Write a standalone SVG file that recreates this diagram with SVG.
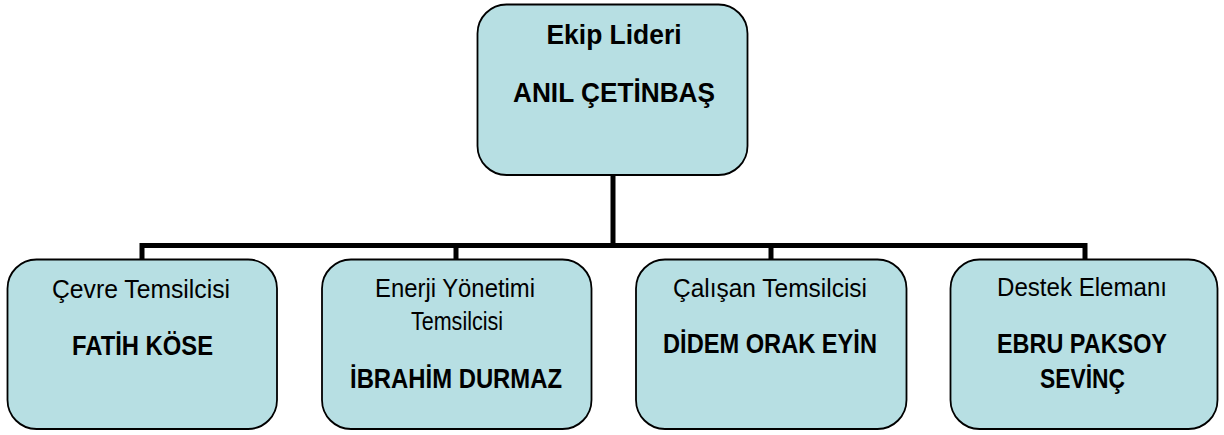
<svg xmlns="http://www.w3.org/2000/svg" width="1224" height="435" viewBox="0 0 1224 435">
<style>
.box{fill:#B7DFE3;stroke:#000;stroke-width:1.8}
.con{fill:none;stroke:#000;stroke-width:5;stroke-linejoin:miter}
text{font-family:"Liberation Sans",Arial,sans-serif;fill:#000;text-anchor:middle}
.r{font-size:26px}
.b{font-size:28px;font-weight:bold}
</style>
<rect width="1224" height="435" fill="#fff"/>
<g id="connectors">
<line class="con" x1="613" y1="175" x2="613" y2="245.5"/>
<path class="con" d="M142 259.5 V245.5 H1085 V259.5"/>
<line class="con" x1="456" y1="245.5" x2="456" y2="259.5"/>
<line class="con" x1="771" y1="245.5" x2="771" y2="259.5"/>
</g>
<g id="node-lider">
<rect class="box" x="477.5" y="4.5" width="270" height="170.5" rx="29"/>
<text class="b" x="614" y="44" textLength="135" lengthAdjust="spacingAndGlyphs">Ekip Lideri</text>
<text class="b" x="614" y="102" textLength="202" lengthAdjust="spacingAndGlyphs">ANIL ÇETİNBAŞ</text>
</g>
<g id="node-cevre">
<rect class="box" x="7.5" y="259.5" width="269.5" height="169.5" rx="29"/>
<text class="r" x="141" y="298" textLength="178" lengthAdjust="spacingAndGlyphs">Çevre Temsilcisi</text>
<text class="b" x="142.5" y="355" textLength="141" lengthAdjust="spacingAndGlyphs">FATİH KÖSE</text>
</g>
<g id="node-enerji">
<rect class="box" x="322" y="259.5" width="269.5" height="169.5" rx="29"/>
<text class="r" x="455" y="297" textLength="160" lengthAdjust="spacingAndGlyphs">Enerji Yönetimi</text>
<text class="r" x="457" y="330" textLength="92" lengthAdjust="spacingAndGlyphs">Temsilcisi</text>
<text class="b" x="456" y="388" textLength="212" lengthAdjust="spacingAndGlyphs">İBRAHİM DURMAZ</text>
</g>
<g id="node-calisan">
<rect class="box" x="636" y="259.5" width="270.5" height="169.5" rx="29"/>
<text class="r" x="770" y="297" textLength="194" lengthAdjust="spacingAndGlyphs">Çalışan Temsilcisi</text>
<text class="b" x="770" y="353" textLength="214" lengthAdjust="spacingAndGlyphs">DİDEM ORAK EYİN</text>
</g>
<g id="node-destek">
<rect class="box" x="950.5" y="259.5" width="267" height="169.5" rx="29"/>
<text class="r" x="1082" y="296" textLength="170" lengthAdjust="spacingAndGlyphs">Destek Elemanı</text>
<text class="b" x="1082" y="353" textLength="170" lengthAdjust="spacingAndGlyphs">EBRU PAKSOY</text>
<text class="b" x="1082.5" y="388" textLength="85" lengthAdjust="spacingAndGlyphs">SEVİNÇ</text>
</g>
</svg>
